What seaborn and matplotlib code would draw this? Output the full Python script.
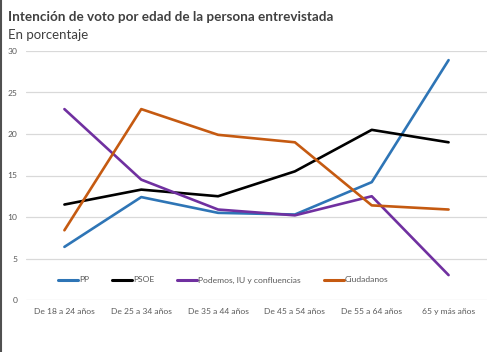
import pandas as pd
import matplotlib
matplotlib.use("Agg")
import matplotlib.pyplot as plt
import seaborn as sns
from matplotlib.lines import Line2D

# Intención de voto por edad (en porcentaje)
edades = ["De 18 a 24 años", "De 25 a 34 años", "De 35 a 44 años",
          "De 45 a 54 años", "De 55 a 64 años", "65 y más años"]
pp = [6.4, 12.4, 10.5, 10.3, 14.2, 28.9]
psoe = [11.5, 13.3, 12.5, 15.5, 20.5, 19.0]
podemos = [23.0, 14.5, 10.9, 10.2, 12.5, 3.0]
ciudadanos = [8.4, 23.0, 19.9, 19.0, 11.4, 10.9]

partidos = ["PP", "PSOE", "Podemos, IU y confluencias", "Ciudadanos"]
colores = ["#2E75B6", "#000000", "#7030A0", "#C55A11"]

df = pd.DataFrame({"Edad": edades * 4,
                   "Partido": [p for p in partidos for _ in edades],
                   "Valor": pp + psoe + podemos + ciudadanos})
df["x"] = [i + 0.5 for i in range(len(edades))] * 4

sns.set_style("white")
plt.rcParams["font.family"] = ["Lato", "DejaVu Sans"]

fig = plt.figure(figsize=(5.0, 3.52), dpi=100)
ax = fig.add_axes([26 / 500, 1 - 300 / 352, 461 / 500, 249 / 352])

sns.lineplot(data=df, x="x", y="Valor", hue="Partido", palette=colores,
             linewidth=1.9, ax=ax, legend=False)

ax.set_xlim(0, 6)
ax.set_ylim(0, 30)
ax.set_yticks(range(0, 31, 5))
ax.set_xticks([i + 0.5 for i in range(len(edades))])
ax.set_xticklabels(edades)
ax.tick_params(axis="both", length=0, labelsize=6.1, colors="#595959")
ax.tick_params(axis="y", pad=6)
ax.tick_params(axis="x", pad=6)
ax.grid(axis="y", color="#D9D9D9", linewidth=0.9)
ax.set_axisbelow(True)
ax.set_xlabel("")
ax.set_ylabel("")
for s in ax.spines.values():
    s.set_visible(False)

handles = [Line2D([], [], color=c, linewidth=2.2) for c in colores]
fig.legend(handles, partidos, loc="center", bbox_to_anchor=(223 / 500, 1 - 280 / 352),
           ncol=4, frameon=False, fontsize=6.1, labelcolor="#595959",
           handlelength=2.4, handletextpad=0.1, columnspacing=2.7)

fig.text(8 / 500, 1 - 17 / 352, "Intención de voto por edad de la persona entrevistada",
         fontsize=9.7, fontweight="bold", color="#404040", va="center")
fig.text(8 / 500, 1 - 35 / 352, "En porcentaje", fontsize=9.5, color="#404040", va="center")

fig.add_artist(Line2D([0.002, 0.002], [0, 1], transform=fig.transFigure,
                      color="#505050", linewidth=1.5))

fig.savefig("out.png", dpi=100)
